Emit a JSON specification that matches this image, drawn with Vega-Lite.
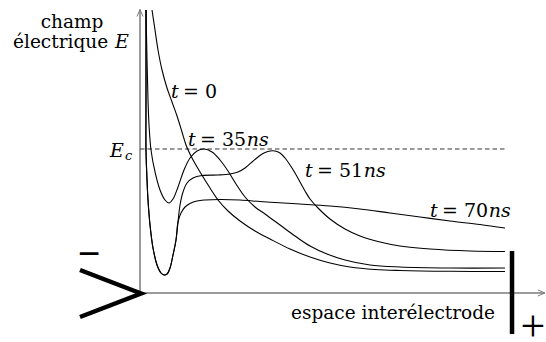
{
  "$schema": "https://vega.github.io/schema/vega-lite/v6.json",
  "width": 546,
  "height": 342,
  "autosize": "none",
  "padding": 0,
  "background": "white",
  "config": {"view": {"stroke": null}},
  "datasets": {
    "curves": [
      {"t": "0", "x": 3.29, "y": 196.53},
      {"t": "0", "x": 4.11, "y": 182.64},
      {"t": "0", "x": 4.93, "y": 168.75},
      {"t": "0", "x": 6.03, "y": 154.86},
      {"t": "0", "x": 7.40, "y": 142.36},
      {"t": "0", "x": 8.77, "y": 132.64},
      {"t": "0", "x": 10.14, "y": 122.92},
      {"t": "0", "x": 11.51, "y": 111.81},
      {"t": "0", "x": 12.60, "y": 102.78},
      {"t": "0", "x": 14.25, "y": 93.75},
      {"t": "0", "x": 16.44, "y": 84.03},
      {"t": "0", "x": 19.18, "y": 72.92},
      {"t": "0", "x": 21.37, "y": 64.58},
      {"t": "0", "x": 24.11, "y": 56.94},
      {"t": "0", "x": 27.40, "y": 50.0},
      {"t": "0", "x": 31.51, "y": 43.06},
      {"t": "0", "x": 35.62, "y": 37.5},
      {"t": "0", "x": 41.10, "y": 30.56},
      {"t": "0", "x": 46.58, "y": 25.0},
      {"t": "0", "x": 52.05, "y": 20.83},
      {"t": "0", "x": 57.53, "y": 18.06},
      {"t": "0", "x": 64.38, "y": 16.32},
      {"t": "0", "x": 71.23, "y": 15.63},
      {"t": "0", "x": 84.93, "y": 15.07},
      {"t": "0", "x": 100, "y": 14.93},

      {"t": "35", "x": 1.64, "y": 196.53},
      {"t": "35", "x": 1.92, "y": 161.81},
      {"t": "35", "x": 2.19, "y": 134.03},
      {"t": "35", "x": 2.47, "y": 116.67},
      {"t": "35", "x": 3.01, "y": 99.31},
      {"t": "35", "x": 4.11, "y": 84.03},
      {"t": "35", "x": 5.48, "y": 71.53},
      {"t": "35", "x": 6.85, "y": 64.58},
      {"t": "35", "x": 7.95, "y": 62.5},
      {"t": "35", "x": 9.04, "y": 65.28},
      {"t": "35", "x": 10.41, "y": 73.61},
      {"t": "35", "x": 12.05, "y": 85.42},
      {"t": "35", "x": 13.70, "y": 93.75},
      {"t": "35", "x": 15.62, "y": 98.61},
      {"t": "35", "x": 17.53, "y": 100},
      {"t": "35", "x": 19.73, "y": 97.92},
      {"t": "35", "x": 21.92, "y": 92.36},
      {"t": "35", "x": 24.11, "y": 84.72},
      {"t": "35", "x": 26.30, "y": 75.69},
      {"t": "35", "x": 28.77, "y": 66.67},
      {"t": "35", "x": 31.51, "y": 59.72},
      {"t": "35", "x": 34.25, "y": 54.86},
      {"t": "35", "x": 38.36, "y": 47.22},
      {"t": "35", "x": 42.47, "y": 39.58},
      {"t": "35", "x": 46.58, "y": 32.64},
      {"t": "35", "x": 51.23, "y": 27.08},
      {"t": "35", "x": 56.16, "y": 22.92},
      {"t": "35", "x": 63.01, "y": 19.44},
      {"t": "35", "x": 71.23, "y": 18.06},
      {"t": "35", "x": 84.93, "y": 17.36},
      {"t": "35", "x": 100, "y": 17.36},

      {"t": "51", "x": 1.64, "y": 196.53},
      {"t": "51", "x": 1.64, "y": 134.03},
      {"t": "51", "x": 1.64, "y": 99.31},
      {"t": "51", "x": 1.92, "y": 78.47},
      {"t": "51", "x": 2.19, "y": 64.58},
      {"t": "51", "x": 2.74, "y": 47.22},
      {"t": "51", "x": 3.56, "y": 31.25},
      {"t": "51", "x": 4.66, "y": 19.44},
      {"t": "51", "x": 5.75, "y": 13.89},
      {"t": "51", "x": 6.58, "y": 12.5},
      {"t": "51", "x": 7.40, "y": 13.19},
      {"t": "51", "x": 8.22, "y": 17.36},
      {"t": "51", "x": 9.04, "y": 26.39},
      {"t": "51", "x": 9.86, "y": 36.81},
      {"t": "51", "x": 10.41, "y": 49.31},
      {"t": "51", "x": 10.96, "y": 61.11},
      {"t": "51", "x": 11.78, "y": 70.14},
      {"t": "51", "x": 12.88, "y": 76.39},
      {"t": "51", "x": 14.52, "y": 79.86},
      {"t": "51", "x": 16.99, "y": 81.60},
      {"t": "51", "x": 21.37, "y": 81.94},
      {"t": "51", "x": 24.66, "y": 82.64},
      {"t": "51", "x": 26.85, "y": 84.03},
      {"t": "51", "x": 28.77, "y": 86.81},
      {"t": "51", "x": 30.68, "y": 90.97},
      {"t": "51", "x": 32.33, "y": 94.44},
      {"t": "51", "x": 33.97, "y": 97.22},
      {"t": "51", "x": 35.62, "y": 98.61},
      {"t": "51", "x": 36.99, "y": 98.61},
      {"t": "51", "x": 38.36, "y": 97.22},
      {"t": "51", "x": 39.73, "y": 93.75},
      {"t": "51", "x": 41.10, "y": 88.89},
      {"t": "51", "x": 42.47, "y": 83.33},
      {"t": "51", "x": 43.84, "y": 77.08},
      {"t": "51", "x": 45.21, "y": 70.83},
      {"t": "51", "x": 46.58, "y": 65.28},
      {"t": "51", "x": 48.77, "y": 59.03},
      {"t": "51", "x": 52.05, "y": 51.39},
      {"t": "51", "x": 56.16, "y": 44.44},
      {"t": "51", "x": 60.27, "y": 39.58},
      {"t": "51", "x": 65.75, "y": 35.42},
      {"t": "51", "x": 71.23, "y": 32.64},
      {"t": "51", "x": 79.45, "y": 30.56},
      {"t": "51", "x": 90.41, "y": 29.17},
      {"t": "51", "x": 100, "y": 28.82},

      {"t": "70", "x": 1.64, "y": 196.53},
      {"t": "70", "x": 1.64, "y": 134.03},
      {"t": "70", "x": 1.64, "y": 99.31},
      {"t": "70", "x": 1.92, "y": 78.47},
      {"t": "70", "x": 2.19, "y": 64.58},
      {"t": "70", "x": 2.74, "y": 47.22},
      {"t": "70", "x": 3.56, "y": 31.25},
      {"t": "70", "x": 4.66, "y": 19.44},
      {"t": "70", "x": 5.75, "y": 13.89},
      {"t": "70", "x": 6.58, "y": 12.5},
      {"t": "70", "x": 7.40, "y": 13.19},
      {"t": "70", "x": 8.22, "y": 17.36},
      {"t": "70", "x": 9.04, "y": 26.39},
      {"t": "70", "x": 9.86, "y": 36.81},
      {"t": "70", "x": 10.41, "y": 49.31},
      {"t": "70", "x": 11.23, "y": 55.56},
      {"t": "70", "x": 12.33, "y": 59.72},
      {"t": "70", "x": 13.70, "y": 62.15},
      {"t": "70", "x": 15.62, "y": 63.89},
      {"t": "70", "x": 17.81, "y": 64.58},
      {"t": "70", "x": 21.92, "y": 64.93},
      {"t": "70", "x": 27.40, "y": 64.58},
      {"t": "70", "x": 32.88, "y": 63.54},
      {"t": "70", "x": 36.99, "y": 62.85},
      {"t": "70", "x": 43.84, "y": 61.81},
      {"t": "70", "x": 52.05, "y": 60.42},
      {"t": "70", "x": 60.27, "y": 58.33},
      {"t": "70", "x": 68.49, "y": 55.56},
      {"t": "70", "x": 76.71, "y": 52.78},
      {"t": "70", "x": 84.93, "y": 50.0},
      {"t": "70", "x": 93.15, "y": 47.57},
      {"t": "70", "x": 100, "y": 45.14}
    ]
  },
  "encoding": {
    "x": {"field": "x", "type": "quantitative", "scale": {"domain": [-38.36, 111.23], "nice": false, "zero": false}, "axis": null},
    "y": {"field": "y", "type": "quantitative", "scale": {"domain": [-34.03, 203.47], "nice": false, "zero": false}, "axis": null}
  },
  "layer": [
    {
      "data": {"values": [{"x": 0, "y": 0, "y2": 196.8}]},
      "mark": {"type": "rule", "stroke": "#7a7a7a", "strokeWidth": 1.5},
      "encoding": {"y2": {"field": "y2"}}
    },
    {
      "data": {"values": [{"x": 0, "x2": 110.9, "y": 0}]},
      "mark": {"type": "rule", "stroke": "#7a7a7a", "strokeWidth": 1.5},
      "encoding": {"x2": {"field": "x2"}}
    },
    {
      "data": {"values": [{"x": 0, "y": 196.8}]},
      "mark": {"type": "point", "shape": "M-1,2.3L0,0L1,2.3", "size": 36, "filled": false, "stroke": "#7a7a7a", "strokeWidth": 1, "opacity": 1}
    },
    {
      "data": {"values": [{"x": 110.9, "y": 0}]},
      "mark": {"type": "point", "shape": "M-2.3,-1L0,0L-2.3,1", "size": 36, "filled": false, "stroke": "#7a7a7a", "strokeWidth": 1, "opacity": 1}
    },
    {
      "data": {"values": [{"x": 0, "x2": 100.27, "y": 100}]},
      "mark": {"type": "rule", "stroke": "#333333", "strokeWidth": 1, "strokeDash": [4.5, 3]},
      "encoding": {"x2": {"field": "x2"}}
    },
    {
      "data": {"name": "curves"},
      "mark": {"type": "line", "interpolate": "catmull-rom", "stroke": "black", "strokeWidth": 1.1},
      "encoding": {"detail": {"field": "t"}, "order": {"value": null}}
    },
    {
      "data": {"values": [{"x": -16.44, "y": 15.97}, {"x": 0.27, "y": -0.35}, {"x": -16.44, "y": -16.67}]},
      "mark": {"type": "line", "stroke": "black", "strokeWidth": 4.5, "strokeJoin": "miter", "strokeCap": "butt"},
      "encoding": {"order": {"value": null}}
    },
    {
      "data": {"values": [{"x": 101.92, "y": 29.17, "y2": -28.47}]},
      "mark": {"type": "rule", "stroke": "black", "strokeWidth": 4.5, "strokeCap": "butt"},
      "encoding": {"y2": {"field": "y2"}}
    },
    {
      "data": {"values": [{"x": -18.63, "y": 184.03, "label": "champ"}]},
      "mark": {"type": "text", "font": "DejaVu Serif", "fontSize": 18.5, "align": "center", "baseline": "alphabetic", "color": "black"},
      "encoding": {"text": {"field": "label"}}
    },
    {
      "data": {"values": [
        {"x": -34.79, "y": 170.14, "label": "électrique"},
        {"x": 41.37, "y": -18.06, "label": "espace interélectrode"}
      ]},
      "mark": {"type": "text", "font": "DejaVu Serif", "fontSize": 18.5, "align": "left", "baseline": "alphabetic", "color": "black"},
      "encoding": {"text": {"field": "label"}}
    },
    {
      "data": {"values": [
        {"x": -6.85, "y": 170.14, "label": "E"},
        {"x": -8.22, "y": 94.44, "label": "E"}
      ]},
      "mark": {"type": "text", "font": "DejaVu Serif", "fontStyle": "italic", "fontSize": 19, "align": "left", "baseline": "alphabetic", "color": "black"},
      "encoding": {"text": {"field": "label"}}
    },
    {
      "data": {"values": [
        {"x": 8.49, "y": 135.42, "label": "t"},
        {"x": 13.15, "y": 102.08, "label": "t"},
        {"x": 29.23, "y": 102.08, "label": "ns"},
        {"x": 45.21, "y": 80.56, "label": "t"},
        {"x": 61.28, "y": 80.56, "label": "ns"},
        {"x": 79.45, "y": 52.78, "label": "t"},
        {"x": 95.53, "y": 52.78, "label": "ns"}
      ]},
      "mark": {"type": "text", "font": "DejaVu Serif", "fontStyle": "italic", "fontSize": 19, "align": "left", "baseline": "alphabetic", "color": "black"},
      "encoding": {"text": {"field": "label"}}
    },
    {
      "data": {"values": [{"x": -4.11, "y": 92.36, "label": "c"}]},
      "mark": {"type": "text", "font": "DejaVu Serif", "fontStyle": "italic", "fontSize": 13, "align": "left", "baseline": "alphabetic", "color": "black"},
      "encoding": {"text": {"field": "label"}}
    },
    {
      "data": {"values": [
        {"x": 11.78, "y": 135.42, "label": "= 0"},
        {"x": 16.44, "y": 102.08, "label": "= 35"},
        {"x": 48.49, "y": 80.56, "label": "= 51"},
        {"x": 82.74, "y": 52.78, "label": "= 70"}
      ]},
      "mark": {"type": "text", "font": "DejaVu Serif", "fontSize": 19, "align": "left", "baseline": "alphabetic", "color": "black"},
      "encoding": {"text": {"field": "label"}}
    },
    {
      "data": {"values": [{"x": -13.97, "y": 18.26, "label": "−"}]},
      "mark": {"type": "text", "font": "Liberation Serif", "fontWeight": "bold", "fontSize": 40, "align": "center", "baseline": "alphabetic", "color": "black"},
      "encoding": {"text": {"field": "label"}}
    },
    {
      "data": {"values": [{"x": 107.67, "y": -33.3, "label": "+"}]},
      "mark": {"type": "text", "font": "Liberation Serif", "fontSize": 44, "align": "center", "baseline": "alphabetic", "color": "black"},
      "encoding": {"text": {"field": "label"}}
    }
  ]
}
